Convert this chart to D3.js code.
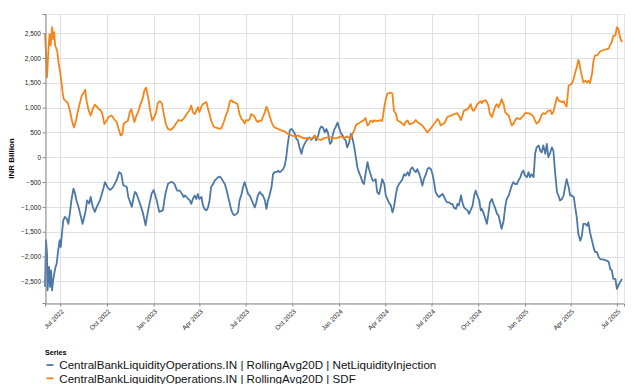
<!DOCTYPE html>
<html lang="en">
<head>
<meta charset="UTF-8">
<title>Central bank liquidity operations</title>
<script src="https://cdn.jsdelivr.net/npm/d3@7"></script>
<style>
  body { margin: 0; background: #fff; }
  svg text { font-family: "Liberation Sans", Arial, Helvetica, sans-serif; }
</style>
</head>
<body>
<div id="viz"></div>
<script>
// data: [days since startDate, INR billion]
var startDate = "2022-06-01";
var endDate = "2025-07-15";

var netInjection = [[0,-2610],[2,-1670],[4,-1940],[5,-2680],[8,-2210],[10,-2610],[12,-2280],[14,-2680],[16,-2480],[20,-2240],[23,-2140],[26,-1870],[29,-1670],[31,-1810],[34,-1470],[36,-1270],[39,-1200],[43,-1240],[46,-1340],[49,-1130],[52,-870],[56,-630],[59,-730],[62,-870],[66,-1000],[69,-1130],[74,-1340],[79,-1130],[83,-870],[87,-930],[90,-800],[94,-1000],[98,-1100],[102,-1000],[108,-870],[115,-630],[118,-500],[123,-600],[128,-660],[134,-600],[141,-460],[146,-300],[150,-330],[154,-560],[161,-600],[164,-800],[171,-1000],[174,-830],[177,-700],[180,-730],[187,-930],[193,-1130],[198,-1370],[203,-1070],[210,-730],[214,-660],[220,-870],[225,-1100],[232,-1070],[237,-740],[242,-540],[247,-500],[251,-500],[255,-540],[260,-670],[265,-670],[270,-740],[273,-800],[276,-770],[282,-840],[285,-870],
  [288,-940],[291,-840],[295,-770],[298,-840],[301,-740],[304,-840],[308,-800],[311,-970],[314,-1040],[318,-1070],[321,-1010],[324,-870],[327,-600],[331,-540],[334,-470],[337,-440],[341,-400],[344,-390],[347,-420],[350,-470],[354,-540],[357,-640],[360,-770],[364,-940],[367,-1070],[370,-1140],[373,-1170],[377,-1140],[380,-1110],[383,-870],[387,-740],[390,-600],[393,-500],[396,-600],[400,-740],[403,-770],[406,-840],[410,-940],[413,-1010],[416,-910],[419,-770],[423,-700],[426,-740],[429,-770],[433,-870],[436,-1040],[439,-870],[442,-770],[446,-600],[449,-340],[452,-300],[456,-300],[459,-270],[462,-300],[465,-280],[469,-240],[472,-170],[475,0],[478,270],[482,540],[485,570],[488,540],[492,470],[495,370],[498,340],[501,200],[505,70],[508,200],[511,270],[515,340],[518,370],[521,400],[524,350],[528,390],[531,440],[534,340],[538,440],[541,570],[544,620],[547,600],[551,500],[554,570],[557,500],[561,270],[564,300],[567,470],[570,570],
  [572,600],[576,700],[579,600],[582,500],[586,440],[589,370],[592,340],[595,200],[599,300],[602,470],[605,400],[609,200],[612,0],[615,-200],[618,-300],[622,-400],[625,-500],[628,-540],[631,-340],[635,-100],[638,-240],[641,-340],[645,-470],[648,-470],[651,-440],[654,-700],[658,-740],[661,-600],[664,-440],[668,-540],[671,-770],[674,-840],[677,-910],[681,-970],[684,-1110],[687,-1010],[691,-740],[694,-600],[697,-540],[700,-500],[704,-440],[707,-340],[710,-370],[714,-300],[717,-370],[720,-240],[723,-200],[727,-270],[730,-300],[733,-240],[737,-340],[740,-440],[743,-570],[746,-440],[750,-340],[753,-240],[756,-210],[760,-240],[763,-340],[766,-500],[769,-700],[773,-770],[776,-800],[779,-770],[783,-740],[786,-800],[789,-870],[792,-910],[796,-910],[799,-940],[802,-940],[805,-1010],[809,-1040],[812,-940],[815,-970],[819,-770],[822,-910],[825,-1010],[828,-1040],[832,-1070],[835,-1140],[838,-1070],[842,-970],[845,-770],[848,-670],[851,-770],[855,-870],[858,-1070],
  [860,-1040],[863,-1110],[867,-1240],[870,-1340],[873,-1140],[876,-910],[880,-840],[883,-940],[886,-1010],[890,-1140],[893,-1170],[896,-1310],[899,-1440],[903,-1280],[906,-1010],[909,-840],[913,-770],[916,-670],[919,-570],[922,-500],[926,-540],[929,-540],[932,-470],[936,-400],[939,-300],[942,-270],[945,-370],[949,-400],[952,-300],[955,-400],[958,-340],[962,-400],[965,70],[968,200],[972,240],[975,130],[978,100],[981,240],[985,70],[988,270],[991,0],[995,100],[998,200],[1001,130],[1004,-270],[1008,-700],[1011,-770],[1014,-870],[1018,-840],[1021,-770],[1024,-600],[1027,-440],[1031,-600],[1034,-770],[1037,-770],[1041,-800],[1044,-1010],[1047,-1210],[1050,-1540],[1054,-1680],[1057,-1580],[1060,-1340],[1064,-1340],[1067,-1380],[1070,-1310],[1073,-1510],[1077,-1680],[1080,-1810],[1083,-1910],[1087,-1910],[1090,-2010],[1093,-2050],[1100,-2060],[1106,-2080],[1110,-2110],[1113,-2250],[1116,-2280],[1119,-2450],[1123,-2450],[1126,-2650],[1129,-2580],[1132,-2520],[1136,-2450]];

var sdf = [[0,2480],[2,2080],[4,1610],[7,2210],[9,2480],[11,2250],[14,2620],[16,2380],[18,2520],[20,2250],[24,2150],[27,1880],[30,1710],[32,1540],[35,1280],[37,1170],[41,1130],[45,1090],[49,940],[53,740],[57,600],[61,740],[65,940],[69,1110],[73,1260],[76,1290],[79,1360],[82,1130],[86,940],[90,840],[94,970],[98,1060],[102,1020],[106,970],[110,940],[113,870],[117,670],[121,730],[125,810],[131,840],[136,770],[141,710],[145,570],[149,440],[152,460],[155,670],[159,710],[163,730],[167,910],[170,970],[173,840],[176,710],[180,840],[184,930],[188,1070],[192,1170],[196,1360],[199,1400],[203,1210],[207,940],[211,740],[215,810],[219,910],[222,1090],[226,1130],[230,1090],[234,870],[238,670],[242,570],[247,550],[253,600],[258,680],[263,750],[268,730],[274,790],[279,870],[284,940],
  [288,1040],[291,910],[295,870],[298,940],[301,1010],[304,910],[308,1020],[311,1070],[314,1090],[318,1110],[321,970],[324,870],[327,740],[331,640],[334,600],[339,590],[344,570],[348,600],[352,710],[357,870],[360,940],[364,1130],[367,1150],[370,1110],[373,1110],[379,1070],[383,870],[387,770],[390,740],[393,680],[396,750],[400,740],[403,770],[406,870],[410,840],[413,810],[416,740],[419,710],[423,740],[426,730],[429,810],[433,910],[436,1020],[439,940],[442,840],[446,710],[449,640],[452,600],[459,570],[465,540],[472,520],[478,470],[485,440],[492,420],[498,440],[505,400],[511,380],[518,390],[524,370],[531,430],[538,360],[544,350],[551,390],[557,400],[564,400],[570,380],
  [576,390],[582,420],[589,390],[595,420],[602,370],[605,460],[609,540],[612,640],[615,670],[622,710],[628,750],[631,790],[635,640],[638,670],[641,740],[645,710],[648,740],[654,730],[661,750],[664,730],[668,1010],[671,1170],[674,1280],[681,1300],[684,1280],[687,940],[691,870],[694,740],[700,710],[707,640],[710,710],[714,740],[717,670],[720,670],[727,710],[730,750],[733,710],[739,670],[743,640],[748,570],[753,500],[756,540],[760,590],[766,670],[773,770],[776,730],[779,640],[783,670],[786,680],[792,810],[799,840],[806,870],[811,890],[815,840],[819,750],[822,840],[825,940],[832,970],[835,1010],[838,1070],[842,940],[845,940],[851,1070],[858,1130],
  [860,1090],[863,1130],[867,1150],[870,1110],[873,1040],[876,870],[880,810],[883,910],[886,1010],[890,1070],[893,1010],[896,1070],[899,1170],[903,1070],[906,910],[909,870],[913,840],[916,740],[919,640],[922,670],[926,750],[929,790],[936,770],[939,810],[942,840],[945,890],[952,890],[955,870],[958,860],[962,810],[965,730],[968,680],[972,710],[975,770],[978,860],[981,890],[985,870],[988,910],[991,940],[995,950],[998,870],[1001,910],[1004,1040],[1008,1210],[1011,1150],[1014,1130],[1018,1110],[1021,1130],[1024,1070],[1027,1020],[1031,1440],[1034,1460],[1037,1480],[1041,1580],[1044,1710],[1047,1810],[1050,1960],[1052,1910],[1054,1780],[1057,1640],[1060,1510],[1064,1540],[1067,1510],[1070,1540],[1073,1490],[1077,1680],[1080,1950],[1083,2050],[1087,2050],[1090,2090],[1093,2130],[1100,2160],[1106,2180],[1110,2190],[1113,2270],[1116,2320],[1119,2450],[1123,2450],[1126,2620],[1129,2580],[1132,2420],[1136,2320]];

var seriesNames = [
  "CentralBankLiquidityOperations.IN | RollingAvg20D | NetLiquidityInjection",
  "CentralBankLiquidityOperations.IN | RollingAvg20D | SDF"
];
var seriesColors = ["#4c78a8", "#f58518"];
var yTicks = [-2500, -2000, -1500, -1000, -500, 0, 500, 1000, 1500, 2000, 2500];
var yDomain = [-2935, 2885];
var yTitle = "INR Billion";
var legendTitle = "Series";

var W = 635, H = 384;
var padL = 45, padR = 624, padT = 14, padB = 303;

var parse = d3.timeParse("%Y-%m-%d");
var t0 = parse(startDate);
function toPoints(arr) {
  return arr.map(function(d) { return { date: d3.timeDay.offset(t0, d[0]), value: d[1] }; });
}
var series = [toPoints(netInjection), toPoints(sdf)];

var svg = d3.select("#viz").append("svg")
    .attr("width", W)
    .attr("height", H);

var x = d3.scaleTime().domain([t0, parse(endDate)]).range([padL, padR]);
var y = d3.scaleLinear().domain(yDomain).range([padB, padT]);

var xTicks = x.ticks(d3.timeMonth.every(3));
var fmtY = d3.format(",");
var fmtX = d3.timeFormat("%b %Y");

// grid
var grid = svg.append("g").attr("class", "grid");
grid.selectAll("line.h").data(yTicks).enter().append("line")
    .attr("x1", padL).attr("x2", padR)
    .attr("y1", function(d){ return Math.round(y(d)) + 0.5; })
    .attr("y2", function(d){ return Math.round(y(d)) + 0.5; })
    .attr("stroke", "#e0e0e0").attr("stroke-width", 1);
grid.selectAll("line.v").data(xTicks).enter().append("line")
    .attr("y1", padT).attr("y2", padB)
    .attr("x1", function(d){ return Math.round(x(d)) + 0.5; })
    .attr("x2", function(d){ return Math.round(x(d)) + 0.5; })
    .attr("stroke", "#e0e0e0").attr("stroke-width", 1);
svg.append("rect")
    .attr("x", padL + 0.5).attr("y", padT + 0.5)
    .attr("width", padR - padL).attr("height", padB - padT)
    .attr("fill", "none").attr("stroke", "#e4e4e4");

// lines
var line = d3.line()
    .x(function(d){ return x(d.date); })
    .y(function(d){ return y(d.value); });
svg.append("g").selectAll("path").data(series).enter().append("path")
    .attr("d", line)
    .attr("fill", "none")
    .attr("stroke", function(d, i){ return seriesColors[i]; })
    .attr("stroke-width", 1.8)
    .attr("stroke-linejoin", "round");

// y axis
var yAxis = svg.append("g").attr("transform", "translate(" + (padL + 0.5) + ",0)")
    .call(d3.axisLeft(y).tickValues(yTicks).tickFormat(fmtY).tickSize(3).tickPadding(1.5));
// x axis
var xAxis = svg.append("g").attr("transform", "translate(0," + (padB + 0.5) + ")")
    .call(d3.axisBottom(x).tickValues(xTicks).tickFormat(fmtX).tickSize(3));
[yAxis, xAxis].forEach(function(a){
  a.select(".domain").attr("stroke", "#888");
  a.selectAll(".tick line").attr("stroke", "#888");
  a.selectAll("text").attr("fill", "#222").style("font-size", "6.5px");
});
xAxis.selectAll(".tick text")
    .attr("text-anchor", "end")
    .attr("transform", "translate(0,5) rotate(-45)")
    .attr("x", 0).attr("y", 0).attr("dy", "0.75em");

// y title
svg.append("text")
    .attr("transform", "translate(14," + ((padT + padB) / 2) + ") rotate(-90)")
    .attr("text-anchor", "middle")
    .style("font-size", "8px").style("font-weight", "bold")
    .attr("fill", "#000")
    .text(yTitle);

// legend
var lg = svg.append("g");
lg.append("text").attr("x", 45).attr("y", 354.5)
    .style("font-size", "7.2px").style("font-weight", "bold")
    .text(legendTitle);
var items = lg.selectAll("g.item").data(seriesNames).enter().append("g")
    .attr("transform", function(d, i){ return "translate(0," + (365 + i * 13.3) + ")"; });
items.append("line")
    .attr("x1", 46.5).attr("x2", 53.5).attr("y1", 0).attr("y2", 0)
    .attr("stroke", function(d, i){ return seriesColors[i]; })
    .attr("stroke-width", 1.8);
items.append("text")
    .attr("x", 59.3).attr("y", 4.2)
    .style("font-size", "11.6px")
    .attr("fill", "#111")
    .text(function(d){ return d; });
</script>
</body>
</html>
